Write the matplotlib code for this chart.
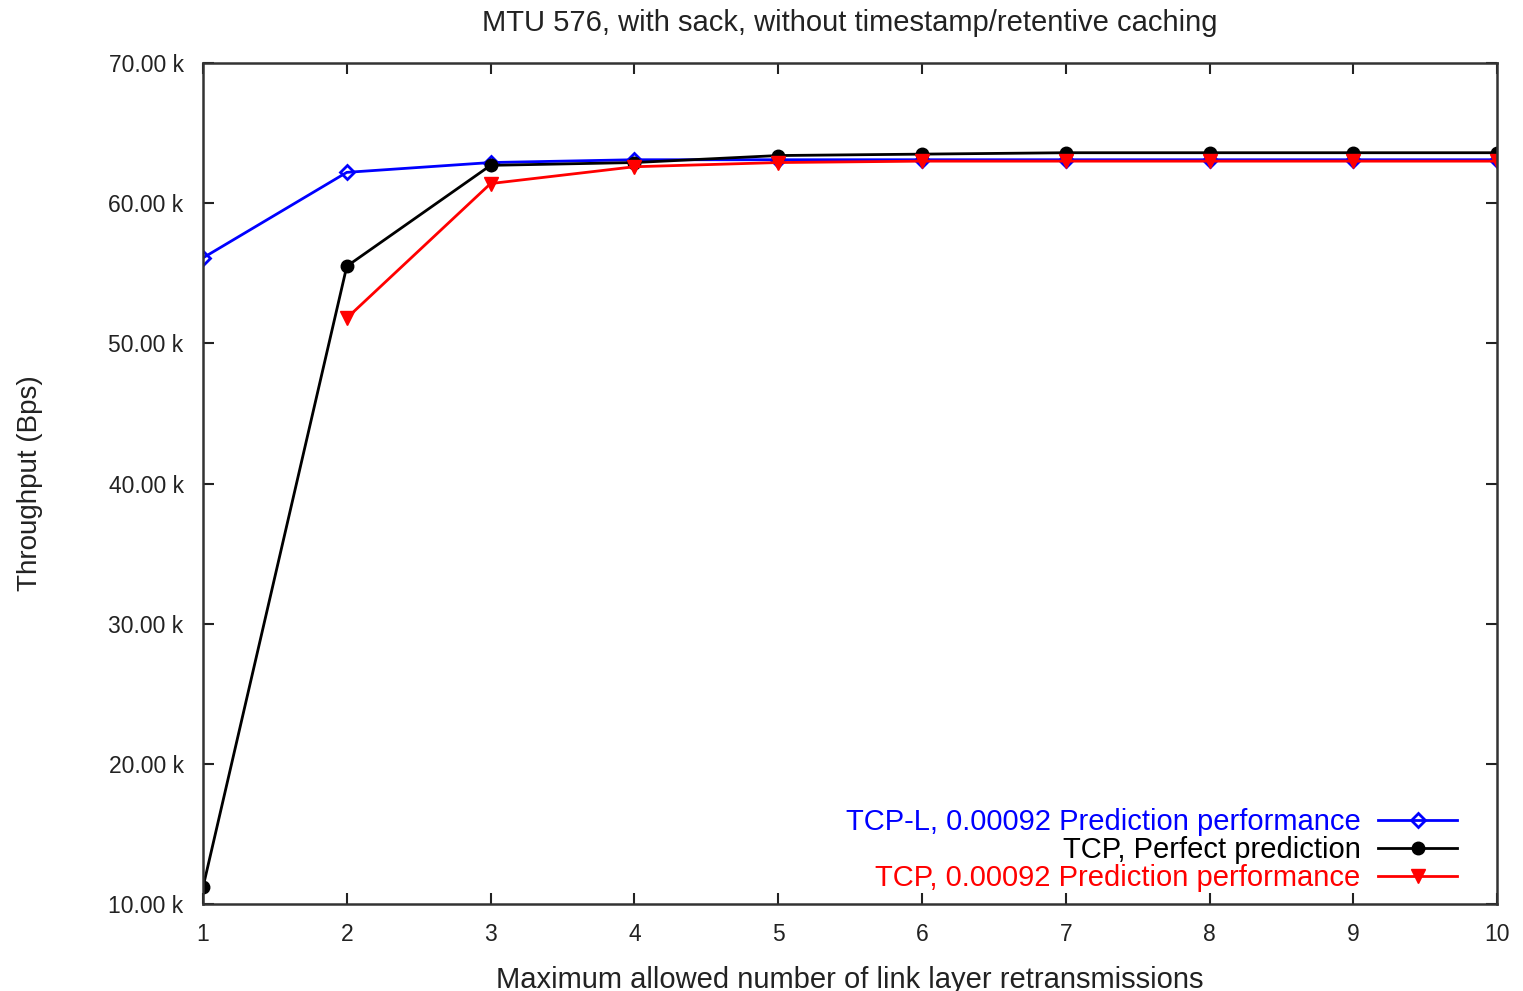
import matplotlib
matplotlib.use('Agg')
import matplotlib.pyplot as plt
from matplotlib.ticker import FuncFormatter

plt.rcParams['font.family'] = ['Liberation Sans', 'DejaVu Sans']

# maximum allowed link layer retransmissions
retrans = [1, 2, 3, 4, 5, 6, 7, 8, 9, 10]

# throughput in Bps
tcpl_pred = [56100, 62200, 62900, 63100, 63100, 63100, 63100, 63100, 63100, 63100]
tcp_perfect = [11200, 55500, 62700, 62900, 63400, 63500, 63600, 63600, 63600, 63600]
tcp_pred_x = [2, 3, 4, 5, 6, 7, 8, 9, 10]
tcp_pred = [51800, 61400, 62600, 62900, 63000, 63000, 63000, 63000, 63000]

fig = plt.figure(figsize=(15.23, 9.91), dpi=100)
ax = fig.add_axes([0.1333, 0.0878, 0.8497, 0.8486])

ax.plot(retrans, tcpl_pred, color='blue', lw=2, marker='D', ms=7,
        mfc='none', mew=2, label='TCP-L, 0.00092 Prediction performance')
ax.plot(retrans, tcp_perfect, color='black', lw=2, marker='o', ms=9,
        label='TCP, Perfect prediction')
ax.plot(tcp_pred_x, tcp_pred, color='red', lw=2, marker='v', ms=10,
        label='TCP, 0.00092 Prediction performance')

ax.set_xlim(1, 10)
ax.set_ylim(10000, 70000)
ax.set_xticks(retrans)
ax.set_yticks(range(10000, 70001, 10000))
ax.yaxis.set_major_formatter(FuncFormatter(lambda v, p: '%.2f k' % (v / 1000)))
ax.tick_params(direction='in', length=8, width=1.5, top=True, right=True,
               labelsize=16.5, pad=14, colors='#222222')
for s in ax.spines.values():
    s.set_linewidth(1.8)
    s.set_color('#333333')

ax.set_title('MTU 576, with sack, without timestamp/retentive caching',
             fontsize=21, pad=23, color='#222222')
ax.set_xlabel('Maximum allowed number of link layer retransmissions',
              fontsize=21, labelpad=14, color='#222222')
ax.set_ylabel('Throughput (Bps)', fontsize=20, labelpad=47, color='#222222')

ax.legend(loc='lower right', markerfirst=False, frameon=False,
          labelcolor='linecolor', fontsize=21, handlelength=2.7,
          handletextpad=0.6, labelspacing=0.0, borderaxespad=0.0,
          bbox_to_anchor=(0.978, 0.0))

fig.savefig('out.png', dpi=100)
